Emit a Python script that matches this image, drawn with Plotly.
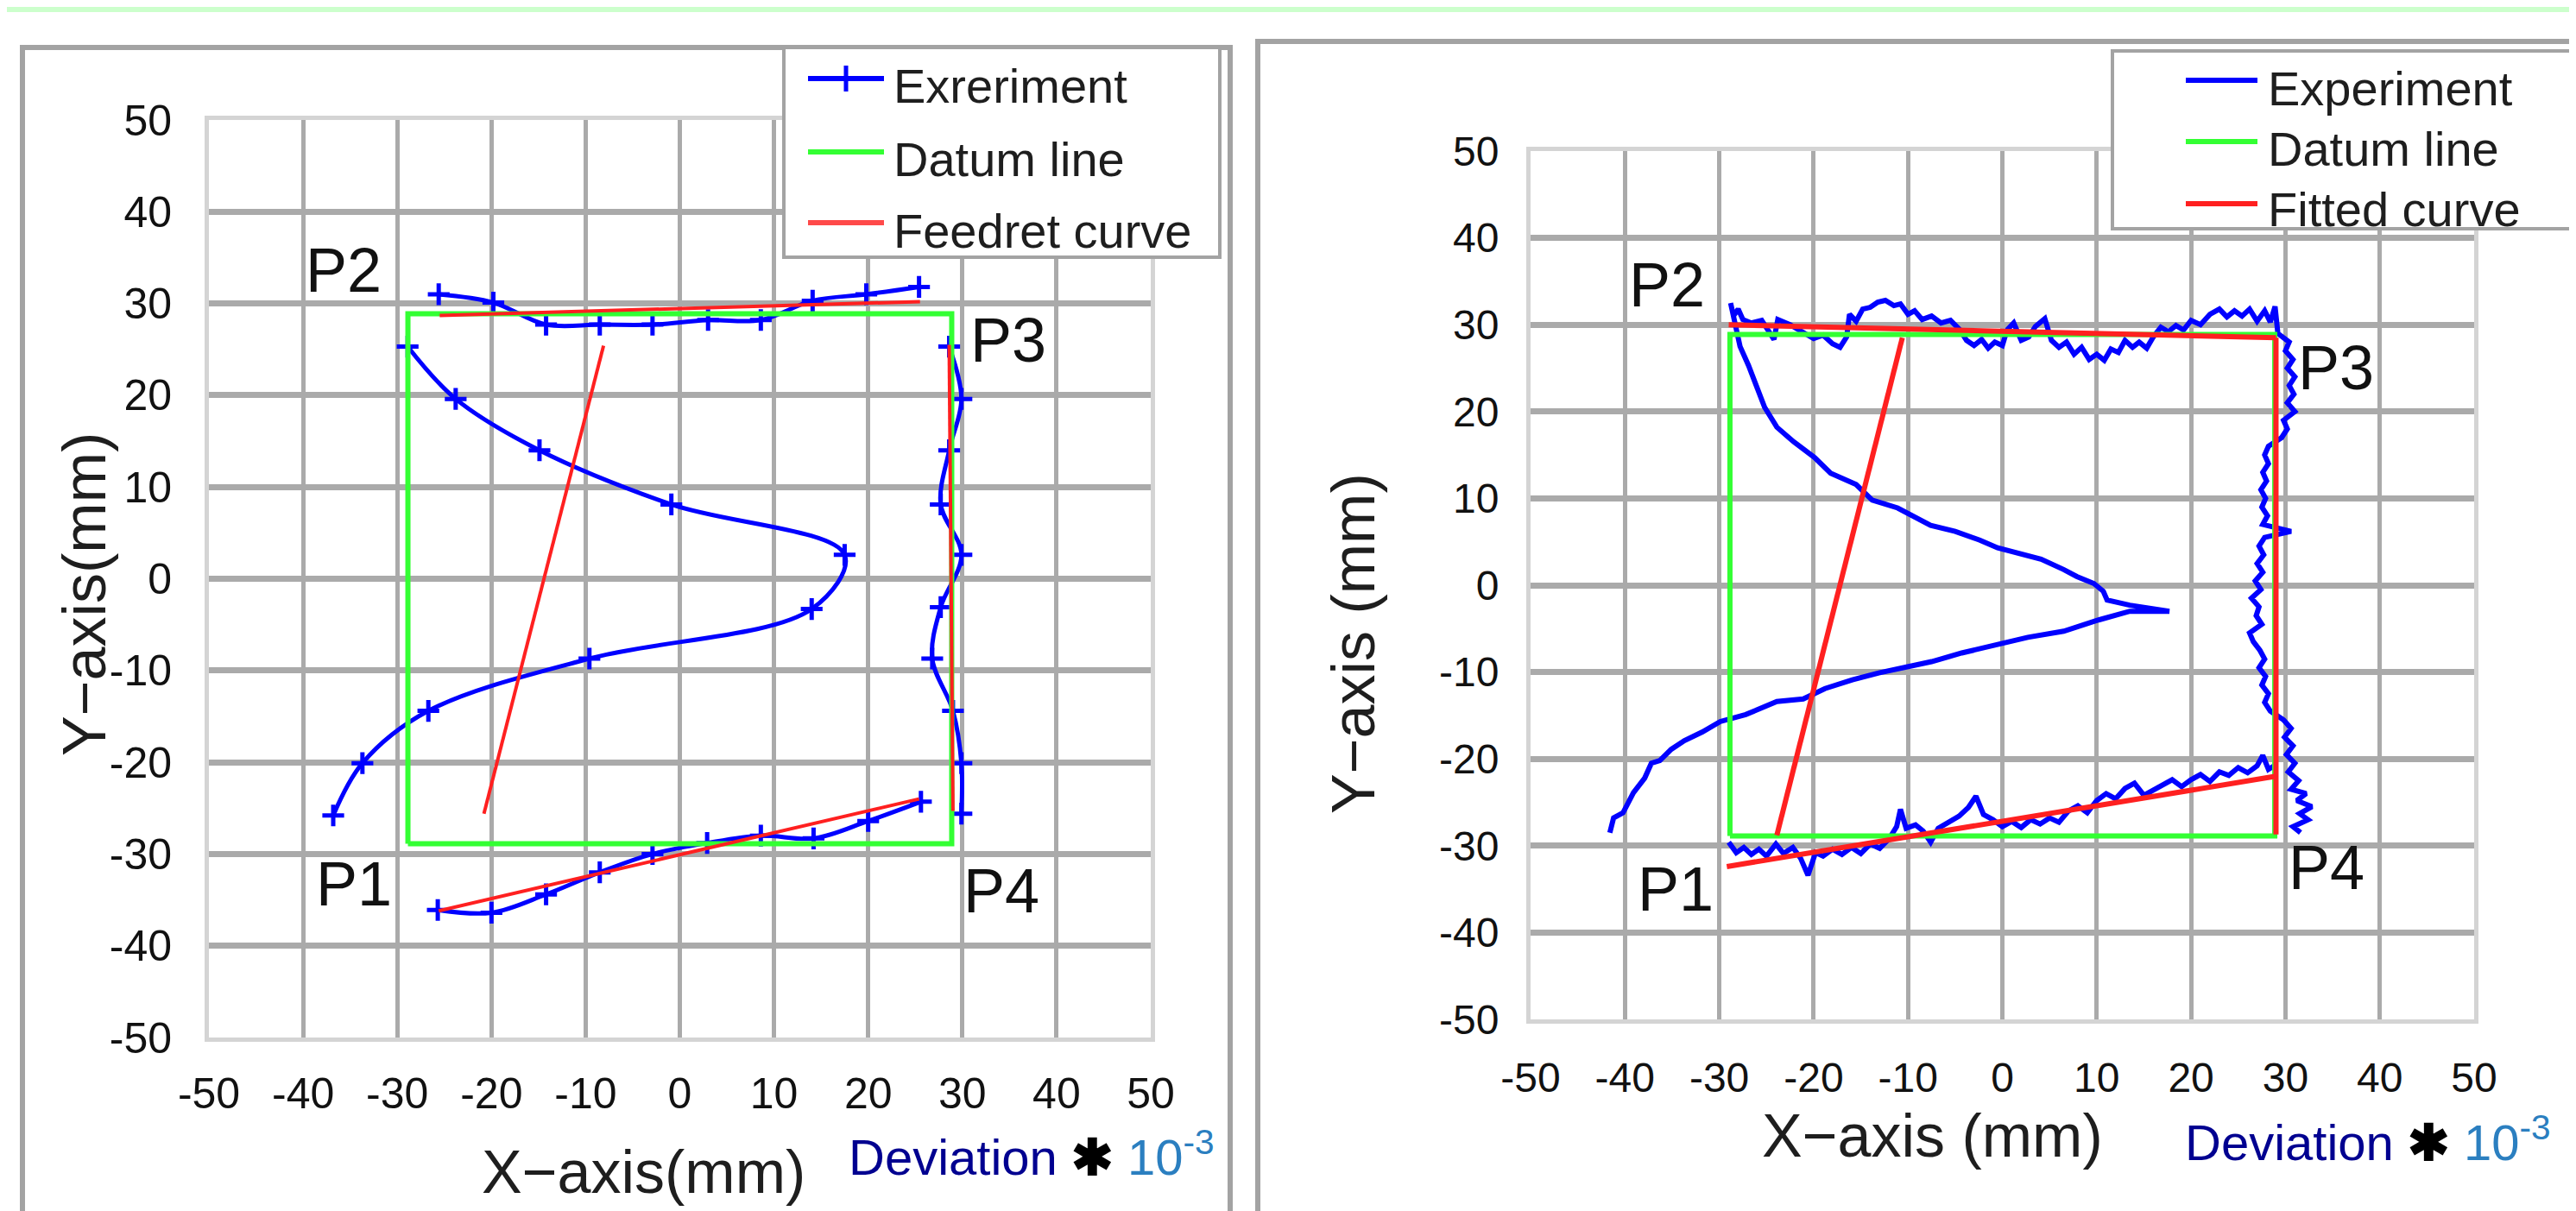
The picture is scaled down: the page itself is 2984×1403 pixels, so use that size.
import plotly.graph_objects as go

W, H = 2984, 1403
FONT = "Liberation Sans, Arial, Helvetica, sans-serif"

# ---------------- tick labels ----------------
tick_vals = [-50, -40, -30, -20, -10, 0, 10, 20, 30, 40, 50]
tick_text = ["-50", "-40", "-30", "-20", "-10", "0", "10", "20", "30", "40", "50"]

# ---------------- left chart data ----------------
left_s_x = [-36.8, -33.7, -26.7, -9.6, 14.0, 17.5, -0.9, -14.9, -23.8, -28.9]
left_s_y = [-25.8, -20.1, -14.4, -8.7, -3.3, 2.6, 8.1, 14.0, 19.6, 25.3]
left_top_x = [-25.6, -19.8, -14.2, -8.5, -2.9, 3.0, 8.6, 14.1, 19.8, 25.4]
left_top_y = [31.0, 30.1, 27.7, 27.7, 27.7, 28.2, 28.2, 30.3, 31.0, 31.8]
left_right_x = [28.6, 29.9, 28.6, 27.7, 29.9, 27.7, 26.8, 29.0, 29.9, 29.9]
left_right_y = [25.3, 19.6, 14.0, 8.1, 2.6, -3.1, -8.7, -14.4, -20.1, -25.6]
left_bot_x = [-25.7, -20.0, -14.2, -8.5, -2.9, 2.9, 8.6, 14.2, 20.0, 25.6]
left_bot_y = [-36.1, -36.4, -34.4, -32.0, -30.0, -28.8, -28.0, -28.3, -26.4, -24.3]

left_fit_x = [-25.5, 25.5, None, 28.6, 29.0, None, -25.6, 25.4, None, -8.1, -20.8]
left_fit_y = [28.7, 30.2, None, 25.5, -25.3, None, -36.2, -24.0, None, 25.4, -25.6]

datum_x = [-28.87, -28.87, 28.87, 28.87, -28.87]
datum_y = [-28.87, 28.87, 28.87, -28.87, -28.87]

# ---------------- right chart data ----------------
right_s_x = [-41.6, -41.2, -40.2, -39.1, -37.9, -37.2, -36.3, -35.1, -33.7, -31.8,
             -29.9, -27.2, -23.9, -21.1, -18.8, -15.9, -13.1, -9.9, -7.5, -4.3,
             -0.1, 2.7, 6.5, 10.2, 13.5, 17.7, 13.5, 11.1, 10.7, 9.7,
             7.9, 6.5, 4.1, 1.8, -0.5, -2.4, -5.0, -7.6, -9.5, -11.1,
             -13.8, -15.5, -18.2, -19.9, -22.1, -23.9, -25.2, -26.1, -26.9, -27.8, -28.2]
right_s_y = [-28.5, -26.8, -26.2, -23.9, -22.2, -20.5, -20.2, -18.9, -17.9, -16.9,
             -15.7, -14.9, -13.4, -13.1, -11.9, -10.9, -10.1, -9.4, -8.8, -7.8,
             -6.8, -6.0, -5.3, -4.0, -3.0, -3.0, -2.3, -1.7, -0.7, 0.2,
             1.0, 1.8, 3.0, 3.6, 4.3, 5.2, 6.2, 6.9, 8.0, 8.9,
             9.8, 11.6, 12.9, 14.7, 16.5, 18.2, 20.5, 23.1, 25.3, 27.5, 29.5]
right_top_x = [-28.8, -28.5, -28.0, -27.5, -26.6, -25.5, -24.2, -23.8, -22.5, -21.0,
               -20.0, -19.0, -18.0, -17.2, -16.5, -16.2, -15.5, -14.8, -14.0, -13.2,
               -12.4, -11.5, -10.8, -10.0, -9.3, -8.5, -7.5, -6.5, -5.5, -4.5,
               -3.8, -3.0, -2.2, -1.5, -0.8, 0.0, 0.5, 1.2, 2.0, 2.8,
               3.5, 4.5, 5.2, 6.0, 6.8, 7.6, 8.4, 9.2, 10.0, 10.8,
               11.5, 12.3, 13.0, 13.8, 14.5, 15.3, 16.0, 16.8, 17.6, 18.4,
               19.2, 20.0, 21.0, 22.0, 23.0, 23.8, 24.6, 25.4, 26.2, 27.0,
               27.8, 28.4, 28.9]
right_top_y = [32.5, 31.0, 31.8, 30.6, 30.2, 30.5, 28.3, 30.6, 30.0, 29.0,
               28.4, 28.8, 27.8, 27.4, 28.6, 31.2, 30.4, 31.8, 32.0, 32.6,
               32.8, 32.2, 32.4, 31.2, 31.6, 30.6, 31.0, 30.2, 30.5, 29.4,
               28.2, 27.6, 28.3, 27.3, 28.0, 27.6, 29.4, 30.2, 28.2, 28.6,
               29.8, 30.7, 28.2, 27.4, 28.0, 26.6, 27.4, 26.0, 26.6, 25.9,
               27.2, 26.8, 28.2, 27.4, 28.0, 27.3, 28.6, 29.7, 29.2, 29.9,
               29.4, 30.5, 30.0, 31.2, 31.8, 30.9, 31.6, 31.0, 31.8, 30.4,
               31.6, 30.3, 32.1]
right_side_x = [29.2, 30.4, 30.0, 30.8, 30.2, 31.0, 30.4, 30.9, 30.2, 31.0,
                29.8, 30.2, 29.6, 28.2, 27.8, 28.2, 27.6, 28.0, 27.4, 27.9,
                27.5, 28.1, 27.6, 30.6, 27.8, 27.2, 27.7, 27.0, 27.6, 26.8,
                27.4, 26.4, 27.2, 26.9, 27.5, 26.2, 26.6, 27.3, 27.8, 27.2,
                27.9, 27.5, 28.2, 27.8, 28.4, 29.8, 30.6, 29.9, 30.8, 30.1,
                31.0, 30.3, 31.4, 30.6, 32.2, 31.2, 32.8, 31.5, 32.4, 30.8, 31.6]
right_side_y = [29.0, 28.0, 27.0, 26.0, 25.0, 24.0, 23.0, 22.0, 21.0, 20.0,
                19.0, 18.0, 17.0, 16.0, 15.0, 14.0, 13.0, 12.0, 11.0, 10.0,
                9.0, 8.0, 7.0, 6.2, 5.5, 4.5, 3.5, 2.5, 1.5, 0.5,
                -0.5, -1.5, -2.5, -3.5, -4.5, -5.5, -6.5, -7.5, -8.5, -9.5,
                -10.5, -11.5, -12.5, -13.5, -14.5, -15.5, -16.5, -17.5, -18.5, -19.5,
                -20.5, -21.5, -22.5, -23.5, -24.0, -24.8, -25.5, -26.3, -27.0, -27.8, -28.5]
right_bot_x = [-29.0, -28.2, -27.4, -26.6, -25.8, -25.0, -24.0, -23.2, -22.2, -21.4,
               -20.6, -19.8, -19.0, -18.0, -17.0, -16.0, -15.0, -14.0, -13.0, -12.0,
               -11.2, -10.8, -10.2, -9.2, -8.4, -7.6, -6.8, -5.5, -4.6, -3.6,
               -2.8, -2.0, -1.0, 0.0, 1.0, 2.0, 3.0, 4.0, 5.0, 6.0,
               7.0, 8.0, 9.0, 10.0, 11.0, 12.0, 13.0, 14.0, 15.0, 16.0,
               17.0, 18.0, 19.0, 20.0, 21.0, 22.0, 23.0, 24.0, 25.0, 26.0,
               27.0, 27.6, 28.2, 28.8]
right_bot_y = [-29.6, -30.8, -30.2, -31.0, -30.4, -31.2, -29.8, -30.9, -30.2, -31.4,
               -33.4, -30.8, -31.2, -30.4, -31.0, -30.2, -30.9, -29.8, -30.3, -29.2,
               -27.8, -25.8, -28.0, -27.6, -28.3, -29.6, -28.0, -27.2, -26.6, -25.6,
               -24.3, -26.4, -27.0, -27.8, -27.2, -27.9, -27.0, -27.5, -26.8, -27.3,
               -26.0, -25.4, -26.2, -24.8, -24.0, -24.6, -23.4, -22.8, -24.2, -23.6,
               -23.0, -22.4, -23.2, -22.4, -21.8, -22.6, -21.5, -21.9, -21.0, -21.6,
               -20.8, -19.6, -21.2, -20.8]

right_fit_x = [-29.0, 29.0, None, 29.0, 29.0, None, -29.2, 29.0, None, -10.6, -23.9]
right_fit_y = [30.0, 28.5, None, 28.5, -28.7, None, -32.4, -22.0, None, 28.5, -28.8]

point_labels = ["P1", "P2", "P3", "P4"]
left_label_x = [-34.6, -35.7, 34.9, 34.1]
left_label_y = [-33.3, 33.6, 26.0, -34.0]
right_label_x = [-34.6, -35.5, 35.4, 34.4]
right_label_y = [-35.0, 34.6, 25.0, -32.5]


def join(*segs):
    out = []
    for i, s in enumerate(segs):
        if i:
            out.append(None)
        out.extend(s)
    return out


BLUE, GREEN, RED = "#0000ff", "#33ff33", "#ff2020"

fig = go.Figure()

# ---- left chart ----
fig.add_trace(go.Scatter(
    x=join(left_s_x, left_top_x, left_right_x, left_bot_x),
    y=join(left_s_y, left_top_y, left_right_y, left_bot_y),
    mode="lines+markers", line=dict(color=BLUE, width=5, shape="spline"),
    marker=dict(symbol="cross-thin", size=18, line=dict(color=BLUE, width=5)),
    name="Exreriment", xaxis="x", yaxis="y", showlegend=False))
fig.add_trace(go.Scatter(x=datum_x, y=datum_y, mode="lines",
                         line=dict(color=GREEN, width=6), name="Datum line",
                         xaxis="x", yaxis="y", showlegend=False))
fig.add_trace(go.Scatter(x=left_fit_x, y=left_fit_y, mode="lines",
                         line=dict(color=RED, width=4), name="Feedret curve",
                         xaxis="x", yaxis="y", showlegend=False))

# ---- right chart ----
fig.add_trace(go.Scatter(
    x=join(right_s_x + right_top_x + right_side_x, right_bot_x),
    y=join(right_s_y + right_top_y + right_side_y, right_bot_y),
    mode="lines", line=dict(color=BLUE, width=6),
    name="Experiment", xaxis="x2", yaxis="y2", showlegend=False))
fig.add_trace(go.Scatter(x=datum_x, y=datum_y, mode="lines",
                         line=dict(color=GREEN, width=6), name="Datum line",
                         xaxis="x2", yaxis="y2", showlegend=False))
fig.add_trace(go.Scatter(x=right_fit_x, y=right_fit_y, mode="lines",
                         line=dict(color=RED, width=6), name="Fitted curve",
                         xaxis="x2", yaxis="y2", showlegend=False))


def px(x):
    return x / W


def py(y):
    return 1 - y / H


def axis(domain, anchor, ticklen, size, grid_w):
    return dict(domain=domain, anchor=anchor, range=[-50, 50], automargin=False,
                tickmode="array", tickvals=tick_vals, ticktext=tick_text,
                showgrid=True, gridcolor="#aaaaaa", gridwidth=grid_w,
                zeroline=False, showline=True, linecolor="#d4d4d4", linewidth=5,
                mirror=True, ticks="outside", ticklen=ticklen,
                tickcolor="rgba(0,0,0,0)",
                tickfont=dict(family=FONT, size=size, color="#111111"))


layout_axes = dict(
    xaxis=axis([px(234), px(1325)], "y", 17, 50, 5),
    yaxis=axis([py(1194), py(131)], "x", 28, 50, 7),
    xaxis2=axis([px(1765), px(2858)], "y2", 21, 48, 5),
    yaxis2=axis([py(1173), py(167)], "x2", 22, 48, 7),
)

GRAYB = "#a3a3a3"
shapes = [
    # light green band at the very top
    dict(type="rect", xref="paper", yref="paper", x0=0, x1=1, y0=py(6), y1=1,
         fillcolor="#ccffcc", line=dict(width=0), layer="below"),
    # panel frames
    dict(type="rect", xref="paper", yref="paper", x0=px(18), x1=px(1417),
         y0=py(1430), y1=py(47), line=dict(color=GRAYB, width=6), layer="below"),
    dict(type="rect", xref="paper", yref="paper", x0=px(1449), x1=px(3010),
         y0=py(1430), y1=py(40), line=dict(color=GRAYB, width=6), layer="below"),
    # legend boxes
    dict(type="rect", xref="paper", yref="paper", x0=px(900), x1=px(1405),
         y0=py(290), y1=py(47), fillcolor="white",
         line=dict(color=GRAYB, width=4)),
    dict(type="rect", xref="paper", yref="paper", x0=px(2439), x1=px(3010),
         y0=py(257), y1=py(51), fillcolor="white",
         line=dict(color=GRAYB, width=4)),
]

annotations = []

# legend contents
legend_specs = [
    (928, 1016, 1025, 56, [(83, 92, BLUE, "Exreriment", True),
                           (168, 176, GREEN, "Datum line", False),
                           (250, 259, "#ff4a4a", "Feedret curve", False)]),
    (2524, 2607, 2617, 56, [(85, 95, BLUE, "Experiment", False),
                            (156, 164, GREEN, "Datum line", False),
                            (228, 234, RED, "Fitted curve", False)]),
]
for lx0, lx1, tx, fs, rows in legend_specs:
    for ly, ty, col, label, cross in rows:
        shapes.append(dict(type="line", xref="paper", yref="paper",
                           x0=px(lx0), x1=px(lx1), y0=py(ly), y1=py(ly),
                           line=dict(color=col, width=6)))
        if cross:
            cx = (lx0 + lx1) / 2
            shapes.append(dict(type="line", xref="paper", yref="paper",
                               x0=px(cx), x1=px(cx), y0=py(ly - 15), y1=py(ly + 15),
                               line=dict(color=col, width=5)))
        annotations.append(dict(xref="paper", yref="paper", x=px(tx), y=py(ty),
                                xanchor="left", yanchor="middle", showarrow=False,
                                text=label, font=dict(family=FONT, size=fs, color="#1e1e1e")))

# point labels
for lab, x, y in zip(point_labels, left_label_x, left_label_y):
    annotations.append(dict(xref="x", yref="y", x=x, y=y, text=lab, showarrow=False,
                            xanchor="center", yanchor="middle",
                            font=dict(family=FONT, size=72, color="#111111")))
for lab, x, y in zip(point_labels, right_label_x, right_label_y):
    annotations.append(dict(xref="x2", yref="y2", x=x, y=y, text=lab, showarrow=False,
                            xanchor="center", yanchor="middle",
                            font=dict(family=FONT, size=72, color="#111111")))

# axis titles
TITLE_FONT = dict(family=FONT, size=70, color="#1e1e1e")
for tx, ty, text, ang in [(737, 1350, "X−axis(mm)", 0),
                          (90, 681, "Y−axis(mm)", -90),
                          (2230, 1308, "X−axis (mm)", 0),
                          (1560, 738, "Y−axis (mm)", -90)]:
    annotations.append(dict(xref="paper", yref="paper", x=px(tx), y=py(ty),
                            xanchor="center", yanchor="middle", text=text,
                            textangle=ang, showarrow=False, font=TITLE_FONT))

dev_text = ("<span style='color:#000090'>Deviation</span> "
            "<span style='color:#000000'><b>✱</b></span> "
            "<span style='color:#2b7fc0'>10<sup>-3</sup></span>")
for tx, ty in [(973, 1328), (2521, 1311)]:
    annotations.append(dict(xref="paper", yref="paper", x=px(tx), y=py(ty),
                            xanchor="left", yanchor="middle", text=dev_text,
                            showarrow=False, font=dict(family=FONT, size=58)))

fig.update_layout(
    width=W, height=H,
    margin=dict(l=0, r=0, t=0, b=0, pad=0, autoexpand=False),
    paper_bgcolor="white", plot_bgcolor="white",
    showlegend=False, shapes=shapes, annotations=annotations,
    **layout_axes)

fig.write_html("out.html")
